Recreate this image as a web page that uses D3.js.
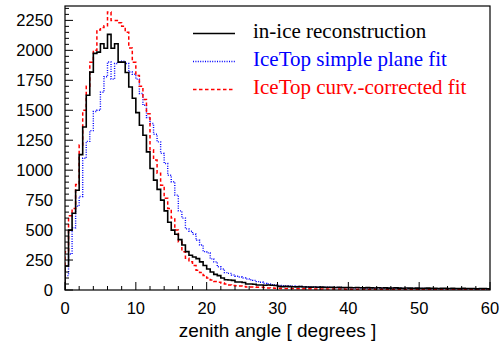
<!DOCTYPE html>
<html><head><meta charset="utf-8">
<script src="https://cdn.jsdelivr.net/npm/d3@7"></script>
<style>html,body{margin:0;padding:0;background:#fff;}svg{display:block;}</style>
</head><body>
<script>
// bin edges: 0.5 degree bins from 0 to 60
const binWidth = 0.5;
const xTickLabels = [0, 10, 20, 30, 40, 50, 60];
const yTickLabels = [0, 250, 500, 750, 1000, 1250, 1500, 1750, 2000, 2250];
const seriesNames = ["in-ice reconstruction", "IceTop simple plane fit", "IceTop curv.-corrected fit"];

const inIce = [
 200, 500, 640, 833, 1130, 1360, 1625, 1818, 1975, 1985,
 2055, 2017, 2133, 2017, 2055, 1902, 1902, 1815, 1694, 1600,
 1480, 1375, 1292, 1153, 1014, 917, 840, 750, 660, 565,
 500, 465, 420, 375, 320, 290, 275, 262, 235, 205,
 175, 150, 130, 120, 100, 85, 83, 80, 67, 67,
 62, 50, 50, 48, 42, 42, 40, 42, 40, 38,
 30, 28, 30, 28, 27, 26, 28, 25, 25, 24,
 25, 23, 24, 22, 23, 22, 21, 22, 20, 21,
 20, 19, 21, 19, 18, 20, 18, 17, 19, 17,
 18, 16, 17, 18, 16, 15, 17, 16, 15, 16,
 15, 14, 16, 14, 15, 13, 14, 15, 13, 14,
 13, 12, 14, 12, 13, 12, 11, 13, 12, 11];

const planeFit = [
 120, 300, 520, 700, 780, 1100, 1240, 1330, 1490, 1500,
 1650, 1780, 1903, 1760, 1890, 1903, 1910, 1890, 1819, 1800,
 1760, 1640, 1542, 1440, 1390, 1300, 1236, 1140, 1056, 958,
 903, 792, 660, 600, 510, 490, 465, 415, 375, 320,
 310, 260, 235, 194, 175, 145, 139, 125, 115, 108,
 100, 92, 85, 80, 70, 65, 55, 50, 45, 42,
 38, 36, 34, 33, 31, 30, 29, 28, 27, 26,
 25, 25, 24, 23, 23, 22, 21, 21, 20, 20,
 19, 19, 18, 18, 17, 17, 17, 16, 16, 15,
 15, 15, 14, 14, 14, 13, 13, 13, 12, 12,
 12, 12, 11, 11, 11, 11, 10, 10, 10, 10,
 10, 9, 9, 9, 9, 9, 8, 8, 8, 8];

const curvFit = [
 320, 620, 680, 880, 1210, 1500, 1700, 1900, 2000, 2170,
 2190, 2205, 2320, 2250, 2250, 2230, 2200, 2150, 2020, 1900,
 1790, 1700, 1590, 1470, 1170, 1085, 975, 875, 765, 680,
 600, 500, 400, 320, 265, 235, 205, 165, 145, 120,
 100, 83, 70, 65, 58, 50, 42, 38, 35, 33,
 30, 25, 25, 24, 22, 22, 20, 17, 16, 15,
 14, 13, 13, 12, 12, 11, 11, 10, 10, 10,
 9, 9, 9, 9, 8, 8, 8, 8, 8, 7,
 7, 7, 7, 7, 7, 6, 6, 6, 6, 6,
 6, 6, 6, 5, 5, 5, 5, 5, 5, 5,
 5, 5, 5, 5, 5, 5, 5, 4, 4, 4,
 4, 4, 4, 4, 4, 4, 4, 4, 4, 4];

const W = 500, H = 347;
const svg = d3.select("body").append("svg").attr("width", W).attr("height", H);
svg.append("rect").attr("width", W).attr("height", H).attr("fill", "#fff");

const x = d3.scaleLinear().domain([0, 60]).range([65, 490]);
const y = d3.scaleLinear().domain([0, 2370]).range([290, 6]);

svg.append("clipPath").attr("id", "clip").append("rect")
  .attr("x", 65).attr("y", 6).attr("width", 425).attr("height", 284);

function stepPoints(vals) {
  const pts = [[0, 0]];
  vals.forEach((v, i) => pts.push([i * binWidth, v]));
  pts.push([vals.length * binWidth, vals[vals.length - 1]]);
  pts.push([vals.length * binWidth, 0]);
  return pts;
}
const line = d3.line().x(d => x(d[0])).y(d => y(d[1])).curve(d3.curveStepAfter);

const g = svg.append("g").attr("clip-path", "url(#clip)");
const series = [
  {vals: planeFit, color: "#0000ff", dash: "1,1.4", w: 1.4},
  {vals: curvFit, color: "#ff0000", dash: "3.5,2.5", w: 1.5},
  {vals: inIce, color: "#000000", dash: null, w: 1.6}
];
series.forEach(s => {
  g.append("path").attr("d", line(stepPoints(s.vals)))
   .attr("fill", "none").attr("stroke", s.color).attr("stroke-width", s.w)
   .attr("stroke-dasharray", s.dash);
});

svg.append("rect").attr("x", 65).attr("y", 6).attr("width", 425).attr("height", 284)
  .attr("fill", "none").attr("stroke", "#000").attr("stroke-width", 1.2);

const xt = svg.append("g");
d3.range(0, 61, 2).forEach(v => {
  const major = v % 10 === 0;
  xt.append("line").attr("x1", x(v)).attr("x2", x(v)).attr("y1", 290).attr("y2", 290 - (major ? 8 : 4))
    .attr("stroke", "#000").attr("stroke-width", 1);
});
xTickLabels.forEach(v => {
  xt.append("text").attr("x", x(v)).attr("y", 313.5).attr("text-anchor", "middle")
    .attr("font-family", "Liberation Sans, Arial, sans-serif").attr("font-size", 16.5).text(v);
});
const yt = svg.append("g");
d3.range(0, 2351, 50).forEach(v => {
  const major = v % 250 === 0;
  yt.append("line").attr("x1", 65).attr("x2", 65 + (major ? 8 : 4)).attr("y1", y(v)).attr("y2", y(v))
    .attr("stroke", "#000").attr("stroke-width", 1);
});
yTickLabels.forEach(v => {
  yt.append("text").attr("x", 53).attr("y", y(v) + 6).attr("text-anchor", "end")
    .attr("font-family", "Liberation Sans, Arial, sans-serif").attr("font-size", 16.5).text(v);
});

svg.append("text").attr("x", 277.5).attr("y", 337).attr("text-anchor", "middle")
  .attr("font-family", "Liberation Sans, Arial, sans-serif").attr("font-size", 19)
  .text("zenith angle [ degrees ]");

const legY = [38, 66, 94];
const legStyles = [
  {color: "#000000", dash: null, w: 1.6},
  {color: "#0000ff", dash: "1,1.4", w: 1.3},
  {color: "#ff0000", dash: "3.5,2.5", w: 1.4}
];
seriesNames.forEach((name, i) => {
  svg.append("line").attr("x1", 193).attr("x2", 235).attr("y1", legY[i] - 4.5).attr("y2", legY[i] - 4.5)
    .attr("stroke", legStyles[i].color).attr("stroke-width", legStyles[i].w)
    .attr("stroke-dasharray", legStyles[i].dash);
  svg.append("text").attr("x", 253).attr("y", legY[i])
    .attr("font-family", "Liberation Serif, Times New Roman, serif").attr("font-size", 21)
    .attr("fill", legStyles[i].color).text(name);
});
</script>
</body></html>
